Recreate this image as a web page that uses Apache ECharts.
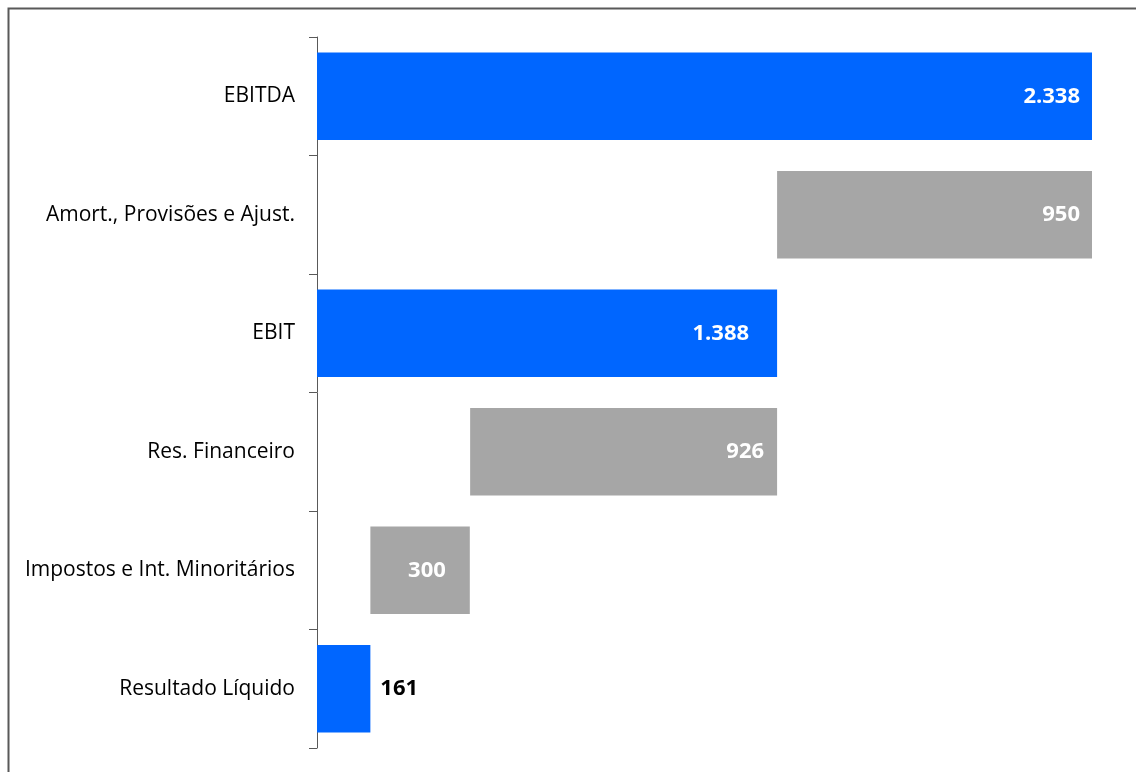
<!DOCTYPE html>
<html>
<head>
<meta charset="utf-8">
<script src="https://cdn.jsdelivr.net/npm/echarts@6/dist/echarts.min.js"></script>
<style>html,body{margin:0;padding:0;background:#fff;}#c{width:1136px;height:772px;}</style>
</head>
<body>
<div id="c"></div>
<script>
const categories = ["EBITDA", "Amort., Provisões e Ajust.", "EBIT", "Res. Financeiro", "Impostos e Int. Minoritários", "Resultado Líquido"];
const values = [2338, 950, 1388, 926, 300, 161];
const offsets = [0, 1388, 0, 462, 161, 0];
const kinds = ["total", "delta", "total", "delta", "delta", "total"];
const valueLabels = ["2.338", "950", "1.388", "926", "300", "161"];

const BLUE = "#0066FF", GRAY = "#A6A6A6";
const FONT = "Open Sans";

const chart = echarts.init(document.getElementById('c'), null, {renderer: 'canvas'});
const labelOffsets = [[-7,0],[-7,0],[-23,0],[-8,0],[-19,0],[0,0]];
chart.setOption({
  animation: false,
  grid: {left: 317, right: 44, top: 37, bottom: 24, containLabel: false},
  graphic: [{
    type: 'rect', left: 6, top: 6, z: 100, silent: true,
    shape: {x: 0, y: 0, width: 1200, height: 800},
    style: {fill: 'none', stroke: '#595959', lineWidth: 2}
  }],
  xAxis: {type: 'value', min: 0, max: 2338, show: false},
  yAxis: {
    type: 'category', data: categories, inverse: true,
    axisLine: {show: true, lineStyle: {color: '#595959', width: 1}},
    axisTick: {show: true, length: 8, lineStyle: {color: '#595959'}},
    axisLabel: {color: '#000', fontFamily: FONT, fontSize: 21, margin: 22}
  },
  series: [
    {type: 'bar', stack: 'w', data: offsets, itemStyle: {color: 'transparent'}, barWidth: '74%', silent: true},
    {type: 'bar', stack: 'w', barWidth: '74%',
     data: values.map((v, i) => ({
       value: v,
       itemStyle: {color: kinds[i] === 'total' ? BLUE : GRAY},
       label: {
         show: true,
         position: i === 5 ? 'right' : 'insideRight',
         offset: labelOffsets[i],
         distance: i === 5 ? 10 : 5,
         color: i === 5 ? '#000' : '#fff',
         fontFamily: FONT, fontWeight: 'bold', fontSize: 22,
         formatter: () => valueLabels[i]
       }
     }))
    }
  ]
});
</script>
</body>
</html>
